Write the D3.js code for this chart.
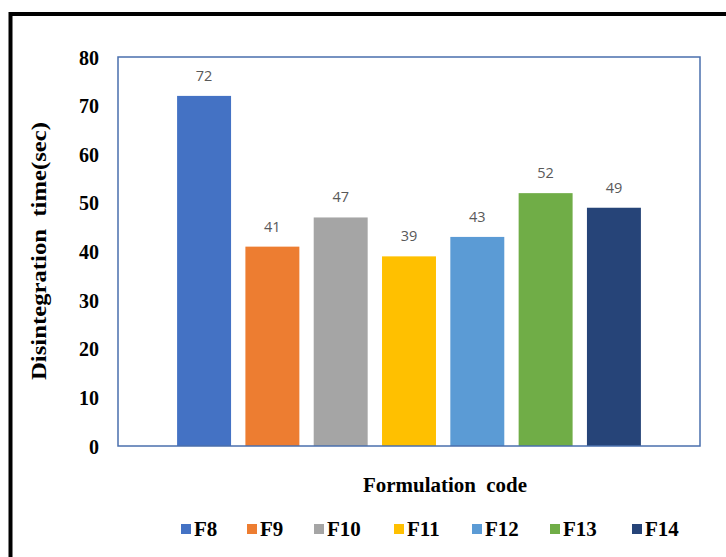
<script src="https://d3js.org/d3.v7.min.js"></script>
<style>
  body { margin: 0; background: #fff; }
  .serif { font-family: "Liberation Serif", "Times New Roman", serif; font-weight: bold; fill: #000; }
  .val { font-family: "Open Sans", "Liberation Sans", sans-serif; font-size: 14.5px; fill: #595959; }
</style>
<svg width="726" height="557" id="chart"></svg>
<script>
  // data
  var codes  = ["F8", "F9", "F10", "F11", "F12", "F13", "F14"]
  var times  = [72, 41, 47, 39, 43, 52, 49]
  var colors = ["#4472C4", "#ED7D31", "#A5A5A5", "#FFC000", "#5B9BD5", "#70AD47", "#264478"]
  var yTicks = [0, 10, 20, 30, 40, 50, 60, 70, 80]

  var svg = d3.select('#chart')

  // outer frame (only top and left edges are visible)
  svg.append('line').attr('x1', 10.5).attr('y1', 14).attr('x2', 726).attr('y2', 14)
    .attr('stroke', '#000').attr('stroke-width', 4)
  svg.append('line').attr('x1', 10.5).attr('y1', 12).attr('x2', 10.5).attr('y2', 557)
    .attr('stroke', '#000').attr('stroke-width', 4)

  // plot box (don't use "top" -- it's window.top)
  var plotL = 118, plotR = 700, plotT = 57, plotB = 446

  var x = d3.scaleBand().domain(codes).range([plotL, plotR])
    .paddingInner(0.21).paddingOuter(0.865)
  var y = d3.scaleLinear().domain([0, 80]).range([plotB, plotT])

  // bars
  svg.selectAll('rect.bar')
    .data(times)
    .enter().append('rect')
    .attr('class', 'bar')
    .attr('x', function(d, i) { return x(codes[i]) })
    .attr('y', function(d) { return y(d) })
    .attr('width', x.bandwidth())
    .attr('height', function(d) { return plotB - y(d) })
    .attr('fill', function(d, i) { return colors[i] })

  // value labels
  svg.selectAll('text.val')
    .data(times)
    .enter().append('text')
    .attr('class', 'val')
    .attr('x', function(d, i) { return x(codes[i]) + x.bandwidth() / 2 })
    .attr('y', function(d) { return y(d) - 15 })
    .attr('text-anchor', 'middle')
    .text(function(d) { return d })

  // plot border
  svg.append('rect')
    .attr('x', plotL).attr('y', plotT)
    .attr('width', plotR - plotL).attr('height', plotB - plotT)
    .attr('fill', 'none').attr('stroke', '#4a6fad').attr('stroke-width', 1.5)

  // y axis labels (no tick marks)
  var yAxis = d3.axisLeft(y).tickValues(yTicks).tickSize(0).tickPadding(0)
  var gy = svg.append('g').attr('transform', 'translate(99,0)').call(yAxis)
  gy.select('.domain').remove()
  gy.attr('font-family', null).attr('font-size', null)
  gy.selectAll('text')
    .attr('class', 'serif')
    .attr('font-size', 20)
    .attr('dy', '0.35em')

  // axis titles -- the original is stretched, so force the length
  svg.append('text')
    .attr('class', 'serif')
    .attr('font-size', 20)
    .attr('text-anchor', 'middle')
    .attr('transform', 'translate(46,251)rotate(-90)')
    .attr('xml:space', 'preserve')
    .attr('textLength', 258)
    .attr('lengthAdjust', 'spacingAndGlyphs')
    .text('Disintegration  time(sec)')

  svg.append('text')
    .attr('class', 'serif')
    .attr('font-size', 20)
    .attr('text-anchor', 'middle')
    .attr('x', 445).attr('y', 492)
    .attr('xml:space', 'preserve')
    .attr('textLength', 164)
    .attr('lengthAdjust', 'spacingAndGlyphs')
    .text('Formulation  code')

  // legend
  var legendX = [181, 247, 314, 394, 472, 550, 632]
  var lg = svg.selectAll('g.leg')
    .data(codes)
    .enter().append('g')
    .attr('class', 'leg')
    .attr('transform', function(d, i) { return 'translate(' + legendX[i] + ',529)' })
  lg.append('rect')
    .attr('x', 0).attr('y', -5).attr('width', 10).attr('height', 10)
    .attr('fill', function(d, i) { return colors[i] })
  lg.append('text')
    .attr('class', 'serif')
    .attr('font-size', 21)
    .attr('x', 13).attr('y', 7)
    .text(function(d) { return d })
</script>
